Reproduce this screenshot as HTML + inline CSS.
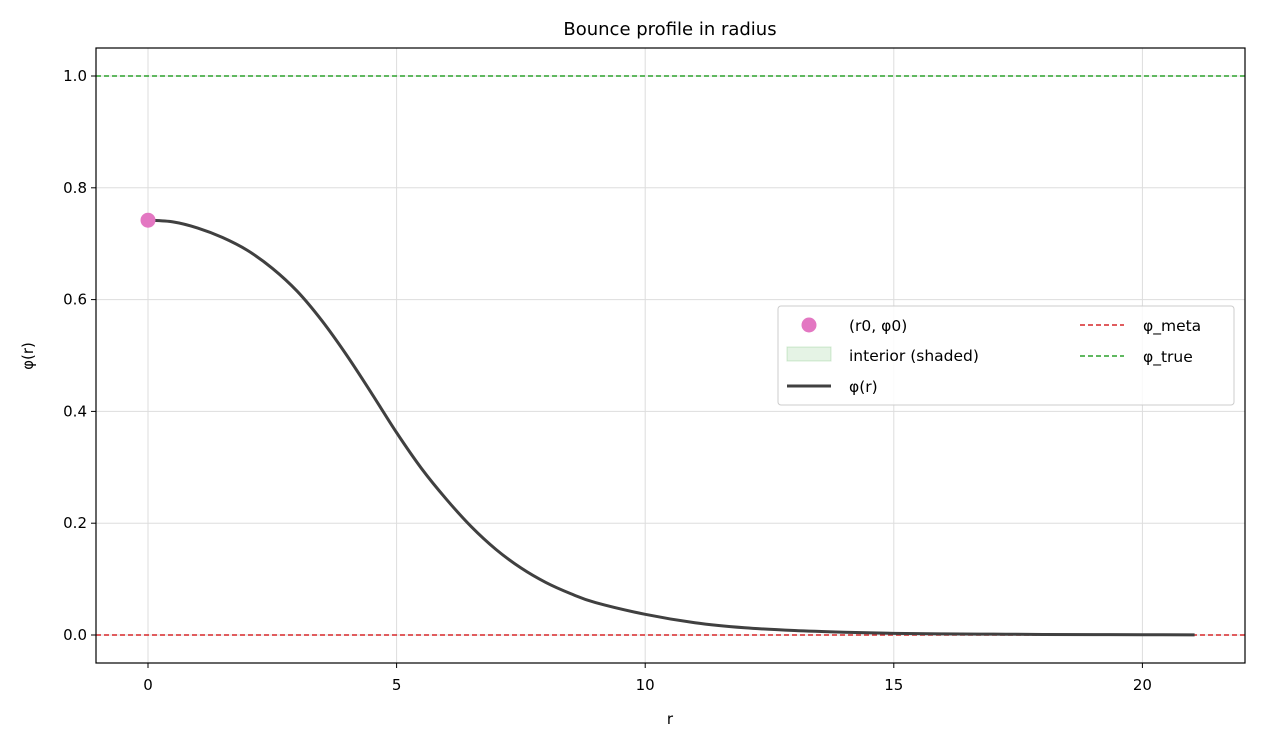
<!DOCTYPE html>
<html><head><meta charset="utf-8"><style>
body{margin:0;background:#fff;font-family:"Liberation Sans","DejaVu Sans",sans-serif;}
svg text{font-family:"DejaVu Sans","Liberation Sans",sans-serif;}
</style></head><body>
<svg id="chart" width="1261" height="744" xmlns="http://www.w3.org/2000/svg">
<rect width="1261" height="744" fill="#fff"/>
<g id="grid"></g>
<g id="marks"></g>
<rect x="96" y="48" width="1149" height="615" fill="none" stroke="#000" stroke-width="1.2"/>
<g id="ticks"></g>
<text x="670" y="35" font-size="18" text-anchor="middle">Bounce profile in radius</text>
<text x="670" y="724" font-size="15" text-anchor="middle">r</text>
<text x="0" y="0" font-size="15" text-anchor="middle" transform="translate(33,356) rotate(-90)">φ(r)</text>
<g>
<rect x="778" y="306" width="456" height="99" rx="3" fill="#fff" fill-opacity="0.85" stroke="#ccc"/>
<circle cx="809" cy="325" r="7.5" fill="#e377c2"/>
<text x="849" y="331" font-size="15.5">(r0, φ0)</text>
<rect x="787" y="347" width="44" height="14" fill="#2ca02c" fill-opacity="0.12" stroke="#2ca02c" stroke-opacity="0.2"/>
<text x="849" y="361" font-size="15.5">interior (shaded)</text>
<line x1="787" y1="386" x2="831" y2="386" stroke="#404040" stroke-width="3"/>
<text x="849" y="392" font-size="15.5">φ(r)</text>
<line x1="1080" y1="325" x2="1124" y2="325" stroke="#d62728" stroke-width="1.4" stroke-dasharray="5,3"/>
<text x="1143" y="331" font-size="15.5">φ_meta</text>
<line x1="1080" y1="356" x2="1124" y2="356" stroke="#2ca02c" stroke-width="1.4" stroke-dasharray="5,3"/>
<text x="1143" y="362" font-size="15.5">φ_true</text>
</g>
</svg>
<script>
const rValues=[0,0.5,1,1.5,2,2.5,3,3.5,4,4.5,5,5.5,6,6.5,7,7.5,8,8.5,9,10,11,12,13,14,15,16,17,18,19,20,21.05];
const phiValues=[0.742,0.739,0.728,0.711,0.688,0.656,0.615,0.562,0.500,0.432,0.362,0.298,0.243,0.194,0.153,0.120,0.094,0.074,0.058,0.037,0.022,0.013,0.008,0.005,0.003,0.002,0.0015,0.001,0.0007,0.0005,0.0003];
const xTicks=[0,5,10,15,20];
const yTicks=[0.0,0.2,0.4,0.6,0.8,1.0];
const phiMeta=0, phiTrue=1.0;
const r0=0, phi0=0.742;
const X=v=>148+v*49.72, Y=v=>635-v*559;
const NS="http://www.w3.org/2000/svg";
function mk(p,t,a){const e=document.createElementNS(NS,t);for(const k in a)e.setAttribute(k,a[k]);p.appendChild(e);return e;}
const grid=document.getElementById('grid'),ticks=document.getElementById('ticks'),marks=document.getElementById('marks');
xTicks.forEach(v=>{
 const g=mk(grid,'line',{x1:X(v),x2:X(v),y1:48,y2:663,stroke:'#ddd','stroke-width':1});
 
 
 mk(ticks,'line',{x1:X(v),x2:X(v),y1:663,y2:668,stroke:'#000'});
 const t=mk(ticks,'text',{x:X(v),y:690,'font-size':15,'text-anchor':'middle'});t.textContent=v;
 
 
});
yTicks.forEach(v=>{
 const g=mk(grid,'line',{x1:96,x2:1245,y1:Y(v),y2:Y(v),stroke:'#ddd','stroke-width':1});
 
 
 mk(ticks,'line',{x1:91,x2:96,y1:Y(v),y2:Y(v),stroke:'#000'});
 const t=mk(ticks,'text',{x:87,y:Y(v)+5,'font-size':15,'text-anchor':'end'});t.textContent=v.toFixed(1);
 
 
});
const m=mk(marks,'line',{x1:96,x2:1245,y1:Y(phiMeta),y2:Y(phiMeta),stroke:'#d62728','stroke-width':1.4,'stroke-dasharray':'5,3'});


const tr=mk(marks,'line',{x1:96,x2:1245,y1:Y(phiTrue),y2:Y(phiTrue),stroke:'#2ca02c','stroke-width':1.4,'stroke-dasharray':'5,3'});


const pts=rValues.map((r,i)=>[X(r),Y(phiValues[i])]);
let d=`M${pts[0][0]},${pts[0][1]}`;
for(let i=0;i<pts.length-1;i++){
 const p0=pts[Math.max(0,i-1)],p1=pts[i],p2=pts[i+1],p3=pts[Math.min(pts.length-1,i+2)];
 const c1=[p1[0]+(p2[0]-p0[0])/6,p1[1]+(p2[1]-p0[1])/6],c2=[p2[0]-(p3[0]-p1[0])/6,p2[1]-(p3[1]-p1[1])/6];
 d+=` C${c1[0]},${c1[1]} ${c2[0]},${c2[1]} ${p2[0]},${p2[1]}`;
}
const c=mk(marks,'path',{d:d,fill:'none',stroke:'#404040','stroke-width':3});


const pt=mk(marks,'circle',{cx:X(r0),cy:Y(phi0),r:7.5,fill:'#e377c2'});


</script>
</body></html>
